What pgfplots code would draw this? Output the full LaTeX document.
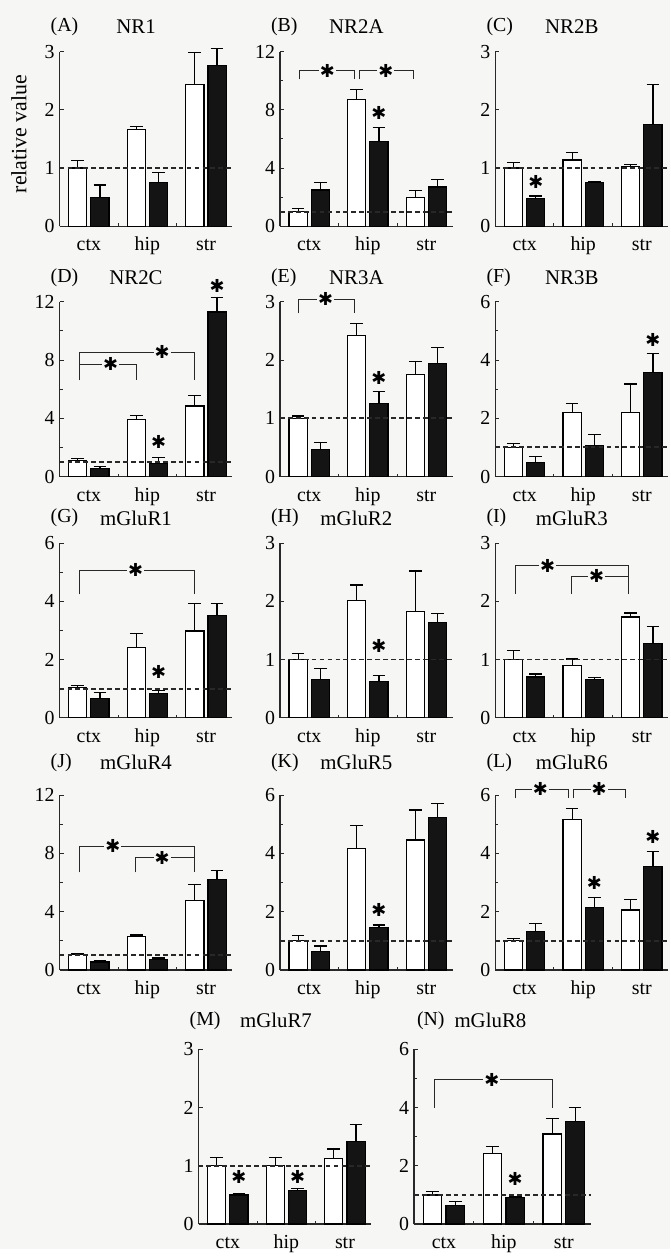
\documentclass[border=0pt]{standalone}
\usepackage{pgfplots}
\pgfplotsset{compat=1.18}
\usepackage{fontspec}
\setmainfont{Liberation Serif}
\newfontfamily\djv{DejaVu Sans}
\definecolor{bg}{RGB}{246,246,244}
\definecolor{ax}{RGB}{40,40,40}
\newcommand{\st}{{\djv\fontsize{9}{9}\selectfont ✱}}
\pgfplotsset{
 panel/.style={
  scale only axis, anchor=south west, height=88pt, width=87pt,
  axis lines=left, axis line style={-, line width=0.6pt, ax},
  xmin=-0.5, xmax=2.45, ymin=0,
  xtick={0,1,2}, xticklabels={ctx,hip,str},
  minor xtick={0.5,1.5},
  tick align=inside, major tick length=2pt, minor tick length=1.5pt,
  every major x tick/.append style={draw=none},
  every tick/.append style={ax, line width=0.5pt},
  tick label style={font=\fontsize{10}{11}\selectfont},
  xticklabel style={text height=1.6ex, text depth=0.3ex, yshift=-1.5pt},
  yticklabel style={xshift=1pt},
  clip=false,
  /pgf/number format/assume math mode=true,
 },
 r3/.style={ymax=3, ytick={0,1,2,3}},
 r6/.style={ymax=6, ytick={0,2,4,6}, minor ytick={1,3,5}},
 r12/.style={ymax=12, ytick={0,4,8,12}, minor ytick={2,6,10}},
 wbar/.style={ybar, bar shift=0pt, bar width=0.31, draw=black, fill=white, line width=0.6pt,
   error bars/.cd, y dir=plus, y explicit, error bar style={line width=0.6pt,black},
   error mark options={rotate=90, mark size=3.2pt, line width=0.6pt, black}},
 kbar/.style={ybar, bar shift=0pt, bar width=0.31, draw=black, fill=black!92, line width=0.6pt,
   error bars/.cd, y dir=plus, y explicit, error bar style={line width=0.6pt,black},
   error mark options={rotate=90, mark size=3.2pt, line width=0.6pt, black}},
 ref/.style={ax, line width=0.9pt, dash pattern=on 2.4pt off 1.6pt},
 brk/.style={ax, line width=0.5pt},
}
\tikzset{sg/.style={fill=bg, inner sep=0.5pt}, ss/.style={inner sep=0pt}}
\begin{document}
\begin{tikzpicture}
\fill[bg] (0pt,0pt) rectangle (337.5pt,629pt);
% titles
\tikzset{lt/.style={anchor=west, font=\fontsize{10}{12}\selectfont}, nt/.style={font=\fontsize{10.5}{12}\selectfont}}
\node[lt] at (22pt,615.5pt) {(A)};   \node[nt] at (68.5pt,615.5pt) {NR1};
\node[lt] at (133pt,615.5pt) {(B)};  \node[nt] at (179.5pt,615.5pt) {NR2A};
\node[lt] at (241.5pt,615.5pt) {(C)};\node[nt] at (288pt,615.5pt) {NR2B};
\node[lt] at (22pt,489pt) {(D)};     \node[nt] at (68.5pt,489pt) {NR2C};
\node[lt] at (133pt,489pt) {(E)};    \node[nt] at (179.5pt,489pt) {NR3A};
\node[lt] at (241.5pt,489pt) {(F)};  \node[nt] at (288pt,489pt) {NR3B};
\node[lt] at (22pt,368pt) {(G)};     \node[nt] at (68.5pt,368pt) {mGluR1};
\node[lt] at (133pt,368pt) {(H)};    \node[nt] at (179.5pt,368pt) {mGluR2};
\node[lt] at (241.5pt,368pt) {(I)};  \node[nt] at (288pt,368pt) {mGluR3};
\node[lt] at (22pt,245pt) {(J)};     \node[nt] at (68.5pt,245pt) {mGluR4};
\node[lt] at (133pt,245pt) {(K)};    \node[nt] at (179.5pt,245pt) {mGluR5};
\node[lt] at (241.5pt,245pt) {(L)};  \node[nt] at (288pt,245pt) {mGluR6};
\node[lt] at (92pt,115pt) {(M)};     \node[nt] at (139pt,115pt) {mGluR7};
\node[lt] at (206.5pt,115pt) {(N)};  \node[nt] at (247pt,115pt) {mGluR8};
\node[rotate=90, font=\fontsize{11}{12}\selectfont] at (9.5pt,561.5pt) {relative value};

% (A) NR1
\begin{axis}[panel, r3, at={(30pt,515pt)}]
\addplot[wbar] coordinates {(-0.19,1.0) +- (0,0.13) (0.81,1.66) +- (0,0.05) (1.81,2.44) +- (0,0.55)};
\addplot[kbar] coordinates {(0.19,0.50) +- (0,0.21) (1.19,0.75) +- (0,0.18) (2.19,2.76) +- (0,0.30)};
\addplot[ref] coordinates {(-0.5,1) (2.45,1)};
\end{axis}
% (B) NR2A
\begin{axis}[panel, r12, at={(141pt,515pt)}]
\addplot[wbar] coordinates {(-0.19,1.0) +- (0,0.2) (0.81,8.7) +- (0,0.7) (1.81,2.0) +- (0,0.45)};
\addplot[kbar] coordinates {(0.19,2.5) +- (0,0.5) (1.19,5.8) +- (0,1.0) (2.19,2.7) +- (0,0.5)};
\addplot[ref] coordinates {(-0.5,1) (2.45,1)};
\addplot[brk] coordinates {(-0.16,10.1) (-0.16,10.7) (0.77,10.7) (0.77,10.1)};
\addplot[brk] coordinates {(0.85,10.1) (0.85,10.7) (1.78,10.7) (1.78,10.1)};
\node[sg] at (axis cs:0.31,10.7) {\st};
\node[sg] at (axis cs:1.31,10.7) {\st};
\node[ss] at (axis cs:1.19,7.8) {\st};
\end{axis}
% (C) NR2B
\begin{axis}[panel, r3, at={(249.5pt,515pt)}]
\addplot[wbar] coordinates {(-0.19,1.0) +- (0,0.1) (0.81,1.14) +- (0,0.13) (1.81,1.03) +- (0,0.03)};
\addplot[kbar] coordinates {(0.19,0.48) +- (0,0.04) (1.19,0.75) +- (0,0.02) (2.19,1.75) +- (0,0.68)};
\addplot[ref] coordinates {(-0.5,1) (2.45,1)};
\node[ss] at (axis cs:0.19,0.76) {\st};
\end{axis}
% (D) NR2C
\begin{axis}[panel, r12, at={(30pt,389pt)}]
\addplot[wbar] coordinates {(-0.19,1.1) +- (0,0.15) (0.81,3.9) +- (0,0.3) (1.81,4.84) +- (0,0.73)};
\addplot[kbar] coordinates {(0.19,0.57) +- (0,0.11) (1.19,0.9) +- (0,0.4) (2.19,11.3) +- (0,1.0)};
\addplot[ref] coordinates {(-0.5,1) (2.45,1)};
\addplot[brk] coordinates {(-0.16,6.6) (-0.16,8.55) (1.81,8.55) (1.81,6.6)};
\addplot[brk] coordinates {(-0.16,7.7) (0.81,7.7) (0.81,6.6)};
\node[sg] at (axis cs:0.37,7.7) {\st};
\node[sg] at (axis cs:1.25,8.55) {\st};
\node[ss] at (axis cs:1.19,2.4) {\st};
\node[ss] at (axis cs:2.19,13.1) {\st};
\end{axis}
% (E) NR3A
\begin{axis}[panel, r3, at={(141pt,389pt)}]
\addplot[wbar] coordinates {(-0.19,1.0) +- (0,0.04) (0.81,2.42) +- (0,0.21) (1.81,1.75) +- (0,0.23)};
\addplot[kbar] coordinates {(0.19,0.47) +- (0,0.11) (1.19,1.26) +- (0,0.2) (2.19,1.94) +- (0,0.28)};
\addplot[ref] coordinates {(-0.5,1) (2.45,1)};
\addplot[brk] coordinates {(-0.18,2.8) (-0.18,3.04) (0.78,3.04) (0.78,2.8)};
\node[sg] at (axis cs:0.28,3.04) {\st};
\node[ss] at (axis cs:1.19,1.7) {\st};
\end{axis}
% (F) NR3B
\begin{axis}[panel, r6, at={(249.5pt,389pt)}]
\addplot[wbar] coordinates {(-0.19,1.0) +- (0,0.12) (0.81,2.2) +- (0,0.31) (1.81,2.2) +- (0,0.98)};
\addplot[kbar] coordinates {(0.19,0.48) +- (0,0.21) (1.19,1.06) +- (0,0.39) (2.19,3.58) +- (0,0.65)};
\addplot[ref] coordinates {(-0.5,1) (2.45,1)};
\node[ss] at (axis cs:2.19,4.69) {\st};
\end{axis}
% (G) mGluR1
\begin{axis}[panel, r6, at={(30pt,267.5pt)}]
\addplot[wbar] coordinates {(-0.19,1.05) +- (0,0.05) (0.81,2.41) +- (0,0.48) (1.81,2.98) +- (0,0.94)};
\addplot[kbar] coordinates {(0.19,0.65) +- (0,0.23) (1.19,0.82) +- (0,0.11) (2.19,3.5) +- (0,0.42)};
\addplot[ref] coordinates {(-0.5,1) (2.45,1)};
\addplot[brk] coordinates {(-0.16,4.24) (-0.16,5.06) (1.81,5.06) (1.81,4.24)};
\node[sg] at (axis cs:0.8,5.06) {\st};
\node[ss] at (axis cs:1.19,1.58) {\st};
\end{axis}
% (H) mGluR2
\begin{axis}[panel, r3, at={(141pt,267.5pt)}]
\addplot[wbar] coordinates {(-0.19,1.0) +- (0,0.11) (0.81,2.02) +- (0,0.26) (1.81,1.82) +- (0,0.7)};
\addplot[kbar] coordinates {(0.19,0.65) +- (0,0.19) (1.19,0.62) +- (0,0.11) (2.19,1.63) +- (0,0.16)};
\addplot[ref] coordinates {(-0.5,1) (2.45,1)};
\node[ss] at (axis cs:1.19,1.24) {\st};
\end{axis}
% (I) mGluR3
\begin{axis}[panel, r3, at={(249.5pt,267.5pt)}]
\addplot[wbar] coordinates {(-0.19,1.0) +- (0,0.15) (0.81,0.9) +- (0,0.11) (1.81,1.73) +- (0,0.07)};
\addplot[kbar] coordinates {(0.19,0.70) +- (0,0.05) (1.19,0.65) +- (0,0.04) (2.19,1.28) +- (0,0.29)};
\addplot[ref] coordinates {(-0.5,1) (2.45,1)};
\addplot[brk] coordinates {(-0.16,2.13) (-0.16,2.61) (1.78,2.61) (1.78,2.13)};
\addplot[brk] coordinates {(0.8,2.13) (0.8,2.43) (1.78,2.43)};
\node[sg] at (axis cs:0.39,2.61) {\st};
\node[sg] at (axis cs:1.23,2.43) {\st};
\end{axis}
% (J) mGluR4
\begin{axis}[panel, r12, at={(30pt,140.5pt)}]
\addplot[wbar] coordinates {(-0.19,1.05) +- (0,0.1) (0.81,2.3) +- (0,0.1) (1.81,4.75) +- (0,1.1)};
\addplot[kbar] coordinates {(0.19,0.55) +- (0,0.12) (1.19,0.72) +- (0,0.1) (2.19,6.2) +- (0,0.63)};
\addplot[ref] coordinates {(-0.5,1) (2.45,1)};
\addplot[brk] coordinates {(-0.16,6.7) (-0.16,8.5) (1.81,8.5) (1.81,6.7)};
\addplot[brk] coordinates {(0.8,6.7) (0.8,7.7) (1.81,7.7)};
\node[sg] at (axis cs:0.41,8.5) {\st};
\node[sg] at (axis cs:1.25,7.7) {\st};
\end{axis}
% (K) mGluR5
\begin{axis}[panel, r6, at={(141pt,140.5pt)}]
\addplot[wbar] coordinates {(-0.19,1.0) +- (0,0.17) (0.81,4.17) +- (0,0.8) (1.81,4.46) +- (0,1.03)};
\addplot[kbar] coordinates {(0.19,0.63) +- (0,0.19) (1.19,1.45) +- (0,0.09) (2.19,5.23) +- (0,0.48)};
\addplot[ref] coordinates {(-0.5,1) (2.45,1)};
\node[ss] at (axis cs:1.19,2.06) {\st};
\end{axis}
% (L) mGluR6
\begin{axis}[panel, r6, at={(249.5pt,140.5pt)}]
\addplot[wbar] coordinates {(-0.19,1.0) +- (0,0.08) (0.81,5.17) +- (0,0.37) (1.81,2.06) +- (0,0.37)};
\addplot[kbar] coordinates {(0.19,1.31) +- (0,0.29) (1.19,2.15) +- (0,0.34) (2.19,3.54) +- (0,0.52)};
\addplot[ref] coordinates {(-0.5,1) (2.45,1)};
\addplot[brk] coordinates {(-0.16,5.89) (-0.16,6.2) (0.74,6.2) (0.74,5.89)};
\addplot[brk] coordinates {(0.84,5.89) (0.84,6.2) (1.72,6.2) (1.72,5.89)};
\node[sg] at (axis cs:0.27,6.2) {\st};
\node[sg] at (axis cs:1.27,6.2) {\st};
\node[ss] at (axis cs:1.19,2.97) {\st};
\node[ss] at (axis cs:2.19,4.55) {\st};
\end{axis}
% (M) mGluR7
\begin{axis}[panel, r3, at={(100pt,12.5pt)}]
\addplot[wbar] coordinates {(-0.19,1.0) +- (0,0.14) (0.81,1.0) +- (0,0.15) (1.81,1.12) +- (0,0.17)};
\addplot[kbar] coordinates {(0.19,0.50) +- (0,0.03) (1.19,0.58) +- (0,0.03) (2.19,1.42) +- (0,0.29)};
\addplot[ref] coordinates {(-0.5,1) (2.45,1)};
\node[ss] at (axis cs:0.19,0.8) {\st};
\node[ss] at (axis cs:1.19,0.8) {\st};
\end{axis}
% (N) mGluR8
\begin{axis}[panel, r6, width=89pt, at={(208.5pt,12.5pt)}]
\addplot[wbar] coordinates {(-0.19,1.0) +- (0,0.11) (0.81,2.43) +- (0,0.23) (1.81,3.09) +- (0,0.53)};
\addplot[kbar] coordinates {(0.19,0.65) +- (0,0.12) (1.19,0.91) +- (0,0.04) (2.19,3.51) +- (0,0.49)};
\addplot[ref] coordinates {(-0.5,1) (2.45,1)};
\addplot[brk] coordinates {(-0.16,4.0) (-0.16,4.95) (1.81,4.95) (1.81,4.0)};
\node[sg] at (axis cs:0.8,4.95) {\st};
\node[ss] at (axis cs:1.19,1.54) {\st};
\end{axis}
\end{tikzpicture}
\end{document}
